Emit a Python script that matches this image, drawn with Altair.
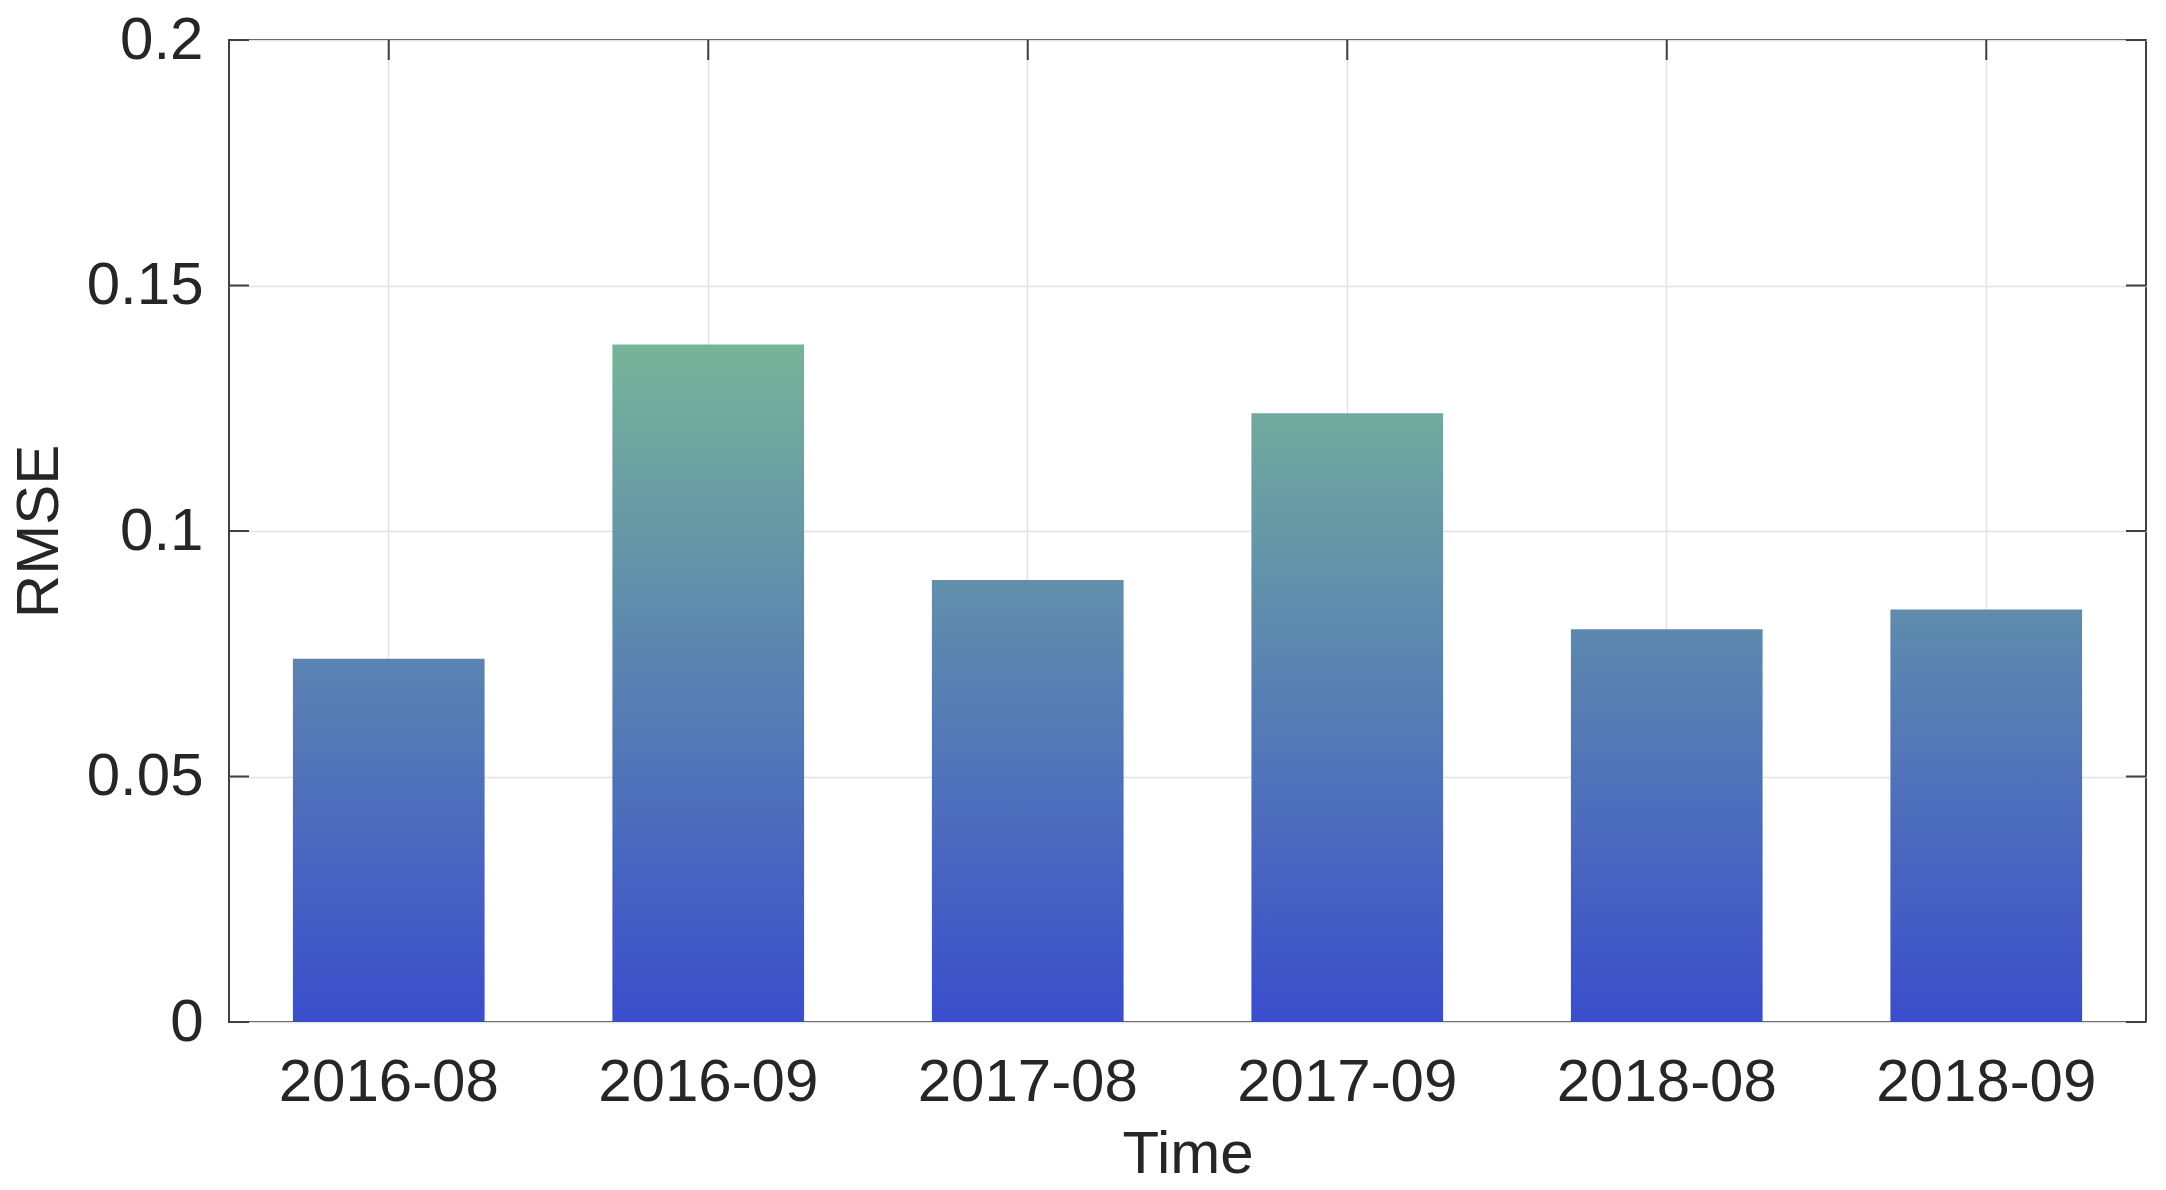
import altair as alt
import pandas as pd

# ---- data ----
categories = ["2016-08", "2016-09", "2017-08", "2017-09", "2018-08", "2018-09"]
rmse = [0.074, 0.138, 0.090, 0.124, 0.080, 0.084]
y_ticks = [0, 0.05, 0.1, 0.15, 0.2]

# ---- style ----
W, H = 1917, 982
FONT = "Liberation Sans"
TXT = "#262626"
GRID = "#e3e3e3"
TICK = "#404040"
C_LOW = (58, 77, 204)     # colour at RMSE = 0
C_HIGH = (120, 182, 152)  # colour at RMSE = 0.14
C_SPAN = 0.14


def mix(v):
    t = max(0.0, min(1.0, v / C_SPAN))
    r, g, b = (round(a + (c - a) * t) for a, c in zip(C_LOW, C_HIGH))
    return f"#{r:02x}{g:02x}{b:02x}"


df = pd.DataFrame({"cat": categories, "rmse": rmse})
tick_df = pd.DataFrame({"v": y_ticks})

x_axis = alt.Axis(
    title="Time",
    labelAngle=0,
    labelFontSize=60,
    labelFont=FONT,
    labelColor=TXT,
    labelPadding=31,
    labelLimit=0,
    labelAlign="center",
    titleFontSize=60,
    titleFont=FONT,
    titleFontWeight="normal",
    titleColor=TXT,
    titlePadding=13,
    ticks=False,
    domain=False,
    grid=True,
    gridColor=GRID,
    gridWidth=1.5,
    bandPosition=0.5,
)
x_scale = alt.Scale(domain=categories, paddingInner=0.4, paddingOuter=0.2)
x_enc = alt.X("cat:N", scale=x_scale, axis=x_axis)

y_axis = alt.Axis(
    title="RMSE",
    values=y_ticks,
    format="~g",
    labelFontSize=60,
    labelFont=FONT,
    labelColor=TXT,
    labelPadding=26,
    labelLimit=0,
    titleFontSize=60,
    titleFont=FONT,
    titleFontWeight="normal",
    titleColor=TXT,
    titlePadding=16,
    ticks=False,
    domain=False,
    grid=True,
    gridColor=GRID,
    gridWidth=1.5,
)
y_scale = alt.Scale(domain=[0, 0.2], nice=False)
y_enc = alt.Y("rmse:Q", scale=y_scale, axis=y_axis)

base = alt.Chart(df)

# inward ticks (drawn under the bars, like the axes layer)
yt_left = alt.Chart(tick_df).mark_rule(color=TICK, strokeWidth=2).encode(
    y=alt.Y("v:Q", scale=y_scale, axis=y_axis), x=alt.value(0), x2=alt.value(20)
)
yt_right = alt.Chart(tick_df).mark_rule(color=TICK, strokeWidth=2).encode(
    y=alt.Y("v:Q", scale=y_scale, axis=y_axis), x=alt.value(W - 20), x2=alt.value(W)
)
xt_bottom = base.mark_rule(color=TICK, strokeWidth=2).encode(
    x=x_enc, y=alt.value(H - 20), y2=alt.value(H)
)
xt_top = base.mark_rule(color=TICK, strokeWidth=2).encode(
    x=x_enc, y=alt.value(0), y2=alt.value(20)
)

bars = []
for c, v in zip(categories, rmse):
    grad = alt.LinearGradient(
        gradient="linear",
        x1=0, x2=0, y1=1, y2=0,
        stops=[
            alt.GradientStop(offset=0, color=mix(0)),
            alt.GradientStop(offset=1, color=mix(v)),
        ],
    )
    bars.append(
        base.transform_filter(alt.datum.cat == c)
        .mark_bar(fill=grad)
        .encode(x=x_enc, y=y_enc)
    )

chart = (
    alt.layer(yt_left, yt_right, xt_bottom, xt_top, *bars)
    .resolve_scale(x="shared", y="shared")
    .properties(
        width=W,
        height=H,
        autosize=alt.AutoSizeParams(type="none"),
        padding={"left": 221, "top": 32, "right": 5, "bottom": 166},
        background="white",
    )
    .configure_view(stroke="#404040", strokeWidth=2)
)

chart.save("out.html", embed_options={"renderer": "svg", "actions": False})
